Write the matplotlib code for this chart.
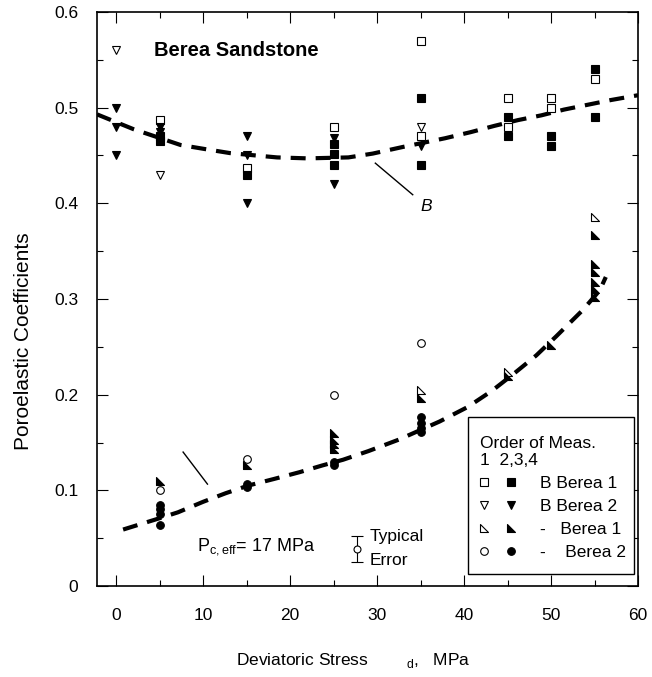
import matplotlib
matplotlib.use("Agg")
import matplotlib.pyplot as plt
from matplotlib.path import Path
from matplotlib.patches import Rectangle
from matplotlib.legend_handler import HandlerTuple
from matplotlib.ticker import MultipleLocator

plt.rcParams['font.family'] = ['Liberation Sans', 'DejaVu Sans']

# ---------------- data ----------------
# Skempton B, Berea 1 (squares)
b1_open_x = [5, 15, 25, 35, 35, 45, 45, 50, 50, 55]
b1_open_y = [0.487, 0.437, 0.48, 0.57, 0.47, 0.51, 0.48, 0.51, 0.50, 0.53]
b1_fill_x = [5, 5, 15, 25, 25, 25, 35, 35, 45, 45, 50, 50, 55, 55]
b1_fill_y = [0.47, 0.465, 0.43, 0.462, 0.452, 0.44, 0.51, 0.44, 0.49, 0.47, 0.47, 0.46, 0.54, 0.49]
# Skempton B, Berea 2 (down triangles)
b2_open_x = [0, 5, 35]
b2_open_y = [0.56, 0.43, 0.48]
b2_fill_x = [0, 0, 0, 5, 5, 15, 15, 15, 25, 25, 35]
b2_fill_y = [0.50, 0.48, 0.45, 0.48, 0.475, 0.47, 0.45, 0.40, 0.468, 0.42, 0.46]
# second coefficient, Berea 1 (right triangles)
g1_open_x = [35, 45, 55]
g1_open_y = [0.205, 0.224, 0.386]
g1_fill_x = [5, 15, 25, 25, 25, 25, 35, 45, 50, 55, 55, 55, 55, 55, 55]
g1_fill_y = [0.11, 0.126, 0.16, 0.153, 0.148, 0.143, 0.197, 0.219, 0.252,
             0.367, 0.337, 0.328, 0.318, 0.31, 0.302]
# second coefficient, Berea 2 (circles)
g2_open_x = [5, 15, 25, 35]
g2_open_y = [0.10, 0.133, 0.20, 0.254]
g2_fill_x = [5, 5, 5, 5, 15, 15, 25, 25, 35, 35, 35, 35]
g2_fill_y = [0.085, 0.08, 0.075, 0.064, 0.107, 0.104, 0.13, 0.126,
             0.177, 0.17, 0.165, 0.161]

# dashed trend curves
curveB_x = [-2.2, 2, 7.4, 10.3, 13.1, 18.5, 22, 26.7, 29.5, 33, 37.8, 40.8,
            43.5, 46.2, 48.9, 51.5, 54.2, 56.9, 60]
curveB_y = [0.493, 0.4775, 0.461, 0.4566, 0.4525, 0.448, 0.447, 0.448, 0.452,
            0.459, 0.468, 0.4745, 0.481, 0.487, 0.492, 0.498, 0.503, 0.508, 0.513]
curveG_x = [0.8, 4.7, 7.1, 10, 12.6, 15.2, 18.2, 21.1, 23.7, 26.1, 29, 32.5,
            37.2, 40.4, 43.2, 45.6, 48.3, 50.6, 53.6, 55.6, 56.3]
curveG_y = [0.059, 0.070, 0.077, 0.088, 0.097, 0.105, 0.112, 0.119, 0.126,
            0.132, 0.141, 0.153, 0.172, 0.187, 0.204, 0.221, 0.241, 0.261,
            0.288, 0.309, 0.323]

# pointer lines
ptrB_x = [29.8, 34.1]
ptrB_y = [0.442, 0.409]
ptrG_x = [7.7, 10.5]
ptrG_y = [0.14, 0.1065]

# typical error bar
err_x = [27.7]
err_y = [0.039]
err_e = [0.0135]

xticks = [0, 10, 20, 30, 40, 50, 60]
yticks = [0, 0.1, 0.2, 0.3, 0.4, 0.5, 0.6]
ytick_labels = ['0', '0.1', '0.2', '0.3', '0.4', '0.5', '0.6']

legend_labels = ['B Berea 1', 'B Berea 2', '-   Berea 1', '-    Berea 2']

# ---------------- figure ----------------
fig = plt.figure(figsize=(6.52, 6.77), dpi=100)
ax = fig.add_axes([97/652, (677-586)/677, (638-97)/652, (586-12)/677])
ax.set_xlim(-2.2, 60)
ax.set_ylim(0, 0.6)

rt = Path([(-1, 1), (-1, -1), (1, -1), (-1, 1)],
          [Path.MOVETO, Path.LINETO, Path.LINETO, Path.CLOSEPOLY])

ms = 5.5
mew = 0.8
kw_open = dict(ls='none', mfc='white', mec='black', mew=mew, ms=ms)
kw_fill = dict(ls='none', mfc='black', mec='black', mew=mew, ms=ms)

for cx, cy in ((curveB_x, curveB_y), (curveG_x, curveG_y)):
    ax.plot(cx, cy, color='black', lw=3, dashes=(3.6, 2.4),
            dash_capstyle='butt', solid_joinstyle='round', zorder=1)

h1o, = ax.plot(b1_open_x, b1_open_y, marker='s', **kw_open)
h1f, = ax.plot(b1_fill_x, b1_fill_y, marker='s', **kw_fill)
h2o, = ax.plot(b2_open_x, b2_open_y, marker='v', **kw_open)
h2f, = ax.plot(b2_fill_x, b2_fill_y, marker='v', **kw_fill)
h3o, = ax.plot(g1_open_x, g1_open_y, marker=rt, **kw_open)
h3f, = ax.plot(g1_fill_x, g1_fill_y, marker=rt, **kw_fill)
h4o, = ax.plot(g2_open_x, g2_open_y, marker='o', **kw_open)
h4f, = ax.plot(g2_fill_x, g2_fill_y, marker='o', **kw_fill)

ax.plot(ptrB_x, ptrB_y, color='black', lw=1)
ax.plot(ptrG_x, ptrG_y, color='black', lw=1)

ax.errorbar(err_x, err_y, yerr=err_e, fmt='o', mfc='white', mec='black',
            ms=5, mew=mew, ecolor='black', elinewidth=0.8, capsize=4, capthick=0.8)

fs = 12.5
ax.text(29.1, 0.052, 'Typical', fontsize=fs, va='center', ha='left')
ax.text(29.1, 0.027, 'Error', fontsize=fs, va='center', ha='left')
ax.text(4.3, 0.56, 'Berea Sandstone', fontsize=14.5, fontweight='bold',
        va='center', ha='left')
ax.text(35.0, 0.397, 'B', fontsize=fs, style='italic', va='center', ha='left')
ax.text(9.3, 0.041, r'P$_{\mathregular{c,eff}}$= 17 MPa', fontsize=13,
        va='center', ha='left')

# ticks
ax.set_xticks(xticks)
ax.set_yticks(yticks)
ax.set_yticklabels(ytick_labels)
ax.xaxis.set_minor_locator(MultipleLocator(5))
ax.yaxis.set_minor_locator(MultipleLocator(0.05))
ax.tick_params(which='both', direction='in', top=True, right=True, width=0.8)
ax.tick_params(which='major', length=7.9, labelsize=fs)
ax.tick_params(which='minor', length=4.3)
ax.tick_params(axis='y', which='major', pad=13.5)
ax.tick_params(axis='x', which='major', pad=15.5)
for sp in ax.spines.values():
    sp.set_linewidth(1.2)

ax.set_ylabel('Poroelastic Coefficients', fontsize=15)
ax.yaxis.set_label_coords(-0.135, 0.427)
ax.yaxis.label.set_va('center')

ax.set_xlabel(r'Deviatoric Stress        $_{\mathregular{d}}$,   MPa', fontsize=fs)
ax.xaxis.set_label_coords(0.257, -0.129)
ax.xaxis.label.set_ha('left')
ax.xaxis.label.set_va('center')

# legend frame (box drawn separately for exact padding)
ax.add_patch(Rectangle((0.6858, 0.0209), 0.3068, 0.2735, transform=ax.transAxes,
                       facecolor='white', edgecolor='black', lw=1.0, zorder=4.5))
leg = ax.legend([(h1o, h1f), (h2o, h2f), (h3o, h3f), (h4o, h4f)], legend_labels,
                handler_map={tuple: HandlerTuple(ndivide=None, pad=1.1)},
                loc='upper left', bbox_to_anchor=(0.708, 0.2613),
                borderaxespad=0, borderpad=0, frameon=False,
                title='Order of Meas.\n1  2,3,4',
                title_fontsize=fs, fontsize=12.5, alignment='left',
                handlelength=2.0, handletextpad=1.44, labelspacing=0.44)
leg.set_zorder(5)

fig.savefig('out.png', dpi=100)
